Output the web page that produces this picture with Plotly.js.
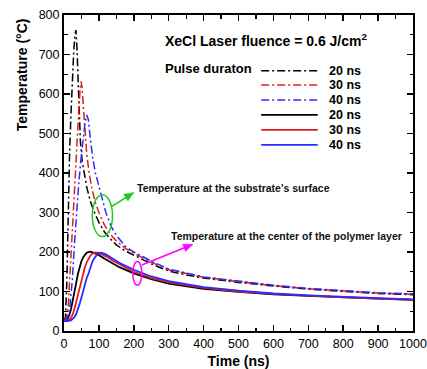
<!DOCTYPE html>
<html>
<head>
<meta charset="utf-8">
<script src="https://cdn.plot.ly/plotly-3.0.1.min.js"></script>
<style>
  html, body { margin: 0; padding: 0; background: #fff; }
  #chart { width: 427px; height: 369px; }
</style>
</head>
<body>
<div id="chart"></div>
<script>
// ---- Data ----
// Temperature at the substrate's surface (dash-dot)
const surf20_t = [0,4,8,12,16,20,24,28,31,34,37,40,43,47,52,58,65,75,85,100,115,130,150,175,200,250,300,350,400,500,600,700,800,900,1000];
const surf20_T = [25,35,120,330,450,550,640,710,745,762,720,630,550,480,430,395,365,330,305,275,252,236,218,203,192,170,152,142,134,123,114,106,100,95,92];

const surf30_t = [0,6,12,18,24,29,34,38,42,46,49,52,56,60,65,72,80,90,100,115,130,150,175,200,250,300,400,500,600,700,800,900,1000];
const surf30_T = [25,30,60,150,260,340,420,490,560,610,632,615,560,500,450,400,360,325,300,270,248,228,210,197,174,155,136,125,115,107,101,96,93];

const surf40_t = [0,8,16,24,30,36,42,48,54,60,65,70,75,82,90,100,110,120,135,150,175,200,250,300,400,500,600,700,800,900,1000];
const surf40_T = [25,30,55,130,220,300,370,430,480,525,547,535,490,440,400,365,330,300,265,242,215,200,177,157,137,126,116,108,102,97,94];

// Temperature at the center of the polymer layer (solid)
const cent20_t = [0,5,10,15,20,25,30,35,40,45,50,55,60,65,70,75,80,90,100,120,140,160,200,250,300,400,500,600,700,800,900,1000];
const cent20_T = [25,26,30,40,55,75,98,122,145,163,177,187,194,198,200,201,200,197,192,181,170,161,146,131,120,107,99,93,89,85,82,79];

const cent30_t = [0,10,15,20,25,30,35,40,45,50,55,60,65,70,75,80,85,90,100,110,120,140,160,200,250,300,400,500,600,700,800,900,1000];
const cent30_T = [25,26,28,33,42,56,73,92,112,130,148,162,174,183,190,195,198,199,198,194,189,178,168,150,134,123,109,100,94,89,85,82,79];

const cent40_t = [0,10,20,25,30,35,40,45,50,55,60,65,70,75,80,85,90,95,100,105,110,120,140,160,200,250,300,400,500,600,700,800,900,1000];
const cent40_T = [25,25,27,30,35,43,55,69,85,102,119,134,145,160,172,182,189,194,197,198,197,194,183,172,155,138,126,111,102,95,90,86,83,80];

const legendLabels = ["20 ns","30 ns","40 ns","20 ns","30 ns","40 ns"];
const titleText = "XeCl Laser fluence = 0.6 J/cm<sup>2</sup>";
const legendTitle = "Pulse duraton";
const noteSurface = "Temperature at the substrate's surface";
const noteCenter = "Temperature at the center of the polymer layer";
const xTitle = "Time (ns)";
const yTitle = "Temperature (°C)";

// ---- Styles ----
const BLACK = "#000000", RED = "#e01c1c", BLUE = "#2b2bff";
const GREEN = "#22c922", MAGENTA = "#ff00ff";
const DASHDOT = "8px,3px,2px,3px";
const FONT = "Arial, 'Liberation Sans', sans-serif";

function series(t, T, color, dash, width) {
  return {
    x: t, y: T, type: "scatter", mode: "lines",
    line: { color: color, dash: dash, width: width },
    showlegend: false, hoverinfo: "skip"
  };
}

const traces = [
  series(cent20_t, cent20_T, BLACK, "solid", 1.8),
  series(cent30_t, cent30_T, RED, "solid", 1.8),
  series(cent40_t, cent40_T, BLUE, "solid", 1.8),
  series(surf20_t, surf20_T, BLACK, DASHDOT, 1.5),
  series(surf30_t, surf30_T, RED, DASHDOT, 1.5),
  series(surf40_t, surf40_T, BLUE, DASHDOT, 1.5)
];

// custom legend (samples + labels), in data units of the axes
const legColors = [BLACK, RED, BLUE, BLACK, RED, BLUE];
const legDash = [DASHDOT, DASHDOT, DASHDOT, "solid", "solid", "solid"];
const legWidth = [1.5, 1.5, 1.5, 1.8, 1.8, 1.8];
const legRowY = [659, 623, 585, 547, 509, 471];
const shapes = [];
const annotations = [];
for (let i = 0; i < legendLabels.length; i++) {
  shapes.push({
    type: "line", xref: "x", yref: "y",
    x0: 565, x1: 727, y0: legRowY[i], y1: legRowY[i],
    line: { color: legColors[i], dash: legDash[i], width: legWidth[i] }
  });
  annotations.push({
    xref: "x", yref: "y", x: 754, y: legRowY[i], xanchor: "left", yanchor: "middle",
    text: "<b>" + legendLabels[i] + "</b>", showarrow: false,
    font: { family: FONT, size: 12.5, color: "#000" }
  });
}

// ellipses
shapes.push({ type: "circle", xref: "x", yref: "y", x0: 81, x1: 139, y0: 239, y1: 345,
  line: { color: GREEN, width: 1.5 } });
shapes.push({ type: "circle", xref: "x", yref: "y", x0: 197, x1: 223, y0: 116, y1: 176,
  line: { color: MAGENTA, width: 1.5 } });

// arrows drawn as a line plus a pixel-sized filled head
const PX_PER_NS = 349 / 1000, PX_PER_C = 316 / 800;
function arrow(t0, T0, t1, T1, color) {
  shapes.push({ type: "line", xref: "x", yref: "y", x0: t0, y0: T0, x1: t1, y1: T1,
    line: { color: color, width: 1.5 } });
  const dx = (t1 - t0) * PX_PER_NS, dy = (T1 - T0) * PX_PER_C;
  const L = Math.hypot(dx, dy), ux = dx / L, uy = dy / L;
  const len = 9, hw = 4;
  const bx = -ux * len, by = -uy * len;
  const p1 = [bx - uy * hw, by + ux * hw], p2 = [bx + uy * hw, by - ux * hw];
  shapes.push({ type: "path", xref: "x", yref: "y", xsizemode: "pixel", ysizemode: "pixel",
    xanchor: t1, yanchor: T1,
    path: "M0,0 L" + p1[0].toFixed(2) + "," + p1[1].toFixed(2) + " L" + p2[0].toFixed(2) + "," + p2[1].toFixed(2) + " Z",
    fillcolor: color, line: { color: color, width: 0.5 } });
}
arrow(136, 315, 199, 350, GREEN);
arrow(223, 167, 368, 219, MAGENTA);

// texts
annotations.push({ xref: "x", yref: "y", x: 203, y: 361, xanchor: "left", yanchor: "middle",
  text: "<b>" + noteSurface + "</b>", showarrow: false,
  font: { family: FONT, size: 10.5, color: "#111" } });
annotations.push({ xref: "x", yref: "y", x: 302, y: 241, xanchor: "left", yanchor: "middle",
  text: "<b>" + noteCenter + "</b>", showarrow: false,
  font: { family: FONT, size: 10.5, color: "#111" } });
annotations.push({ xref: "x", yref: "y", x: 283, y: 737, xanchor: "left", yanchor: "middle",
  text: "<b>" + titleText + "</b>", showarrow: false,
  font: { family: FONT, size: 14, color: "#000" } });
annotations.push({ xref: "x", yref: "y", x: 283, y: 665, xanchor: "left", yanchor: "middle",
  text: "<b>" + legendTitle + "</b>", showarrow: false,
  font: { family: FONT, size: 13, color: "#000" } });
// y-axis title (placed high, as in the reference)
annotations.push({ xref: "paper", yref: "paper", x: -0.118, y: 0.812, xanchor: "center", yanchor: "middle",
  textangle: -90, text: "<b>" + yTitle + "</b>", showarrow: false,
  font: { family: FONT, size: 14, color: "#000" } });

const axisCommon = {
  showline: true, linecolor: "#000", linewidth: 2, mirror: "ticks",
  ticks: "inside", ticklen: 6, tickwidth: 1.5, tickcolor: "#000",
  showgrid: false, zeroline: false, ticklabeloverflow: "allow",
  tickfont: { family: FONT, size: 12.5, color: "#000" },
  minor: { ticks: "inside", ticklen: 3.5, tickwidth: 1.2, tickcolor: "#000", dtick: 50, showgrid: false }
};

const layout = {
  width: 427, height: 369,
  margin: { l: 64, r: 14, t: 15, b: 38 },
  paper_bgcolor: "#fff", plot_bgcolor: "#fff",
  showlegend: false,
  xaxis: Object.assign({}, axisCommon, {
    range: [0, 1000], dtick: 100, tick0: 0,
    title: { text: "<b>" + xTitle + "</b>", font: { family: FONT, size: 14, color: "#000" }, standoff: 7 }
  }),
  yaxis: Object.assign({}, axisCommon, {
    range: [0, 800], dtick: 100, tick0: 0
  }),
  shapes: shapes,
  annotations: annotations
};

Plotly.newPlot("chart", traces, layout, { displayModeBar: false, staticPlot: true });
</script>
</body>
</html>
